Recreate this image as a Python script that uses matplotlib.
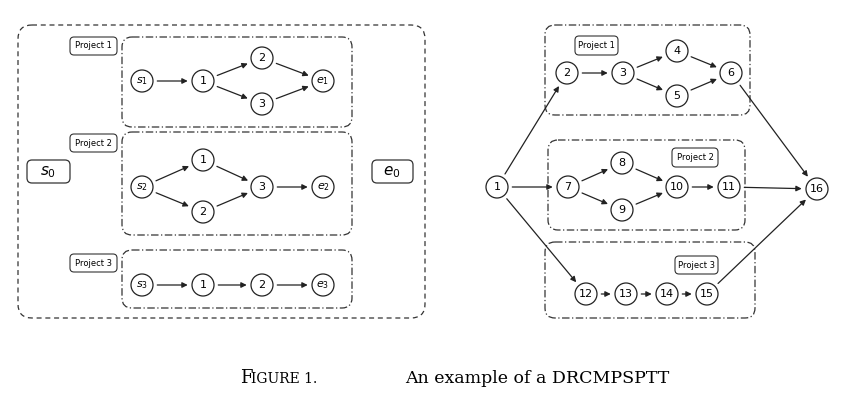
import matplotlib.pyplot as plt
from matplotlib.patches import FancyBboxPatch, Circle

# node name -> (x, y, label)
left_nodes = {
    's1': (142, 81, '$s_1$'), 'a1': (203, 81, '1'), 'a2': (262, 58, '2'),
    'a3': (262, 104, '3'), 'e1': (323, 81, '$e_1$'),
    's2': (142, 187, '$s_2$'), 'b1': (203, 160, '1'), 'b2': (203, 212, '2'),
    'b3': (262, 187, '3'), 'e2': (323, 187, '$e_2$'),
    's3': (142, 285, '$s_3$'), 'c1': (203, 285, '1'), 'c2': (262, 285, '2'),
    'e3': (323, 285, '$e_3$'),
}
left_edges = [('s1', 'a1'), ('a1', 'a2'), ('a1', 'a3'), ('a2', 'e1'), ('a3', 'e1'),
              ('s2', 'b1'), ('s2', 'b2'), ('b1', 'b3'), ('b2', 'b3'), ('b3', 'e2'),
              ('s3', 'c1'), ('c1', 'c2'), ('c2', 'e3')]

right_nodes = {
    1: (497, 187), 2: (567, 73), 3: (623, 73), 4: (677, 51), 5: (677, 96),
    6: (731, 73), 7: (568, 187), 8: (622, 163), 9: (622, 210), 10: (677, 187),
    11: (729, 187), 12: (586, 294), 13: (626, 294), 14: (667, 294),
    15: (707, 294), 16: (817, 189),
}
right_edges = [(1, 2), (1, 7), (1, 12), (2, 3), (3, 4), (3, 5), (4, 6), (5, 6),
               (6, 16), (7, 8), (7, 9), (8, 10), (9, 10), (10, 11), (11, 16),
               (12, 13), (13, 14), (14, 15), (15, 16)]

# (x0, y0, x1, y1)
group_boxes = [(122, 37, 352, 127), (122, 132, 352, 235), (122, 250, 352, 308),
               (545, 25, 750, 115), (548, 140, 745, 230), (545, 242, 755, 318)]
label_boxes = [(70, 37, 117, 55, 'Project 1'), (70, 134, 117, 152, 'Project 2'),
               (70, 254, 117, 272, 'Project 3'), (575, 36, 618, 55, 'Project 1'),
               (672, 148, 718, 167, 'Project 2'), (675, 256, 718, 274, 'Project 3')]

R = 11

fig = plt.figure(figsize=(8.48, 4.11), dpi=100)
ax = fig.add_axes([0, 0, 1, 1])
ax.set_xlim(0, 848)
ax.set_ylim(411, 0)
ax.axis('off')


def rbox(x0, y0, x1, y1, ls, pad=8, lw=0.9):
    ax.add_patch(FancyBboxPatch((x0, y0), x1 - x0, y1 - y0,
                                boxstyle='round,pad=0,rounding_size=%d' % pad,
                                fill=False, ec='#333333', lw=lw, ls=ls))


rbox(18, 25, 425, 318, (0, (4, 3)), pad=14)
for b in group_boxes:
    rbox(*b, ls=(0, (6, 2, 1, 2)), pad=10)
for x0, y0, x1, y1, t in label_boxes:
    rbox(x0, y0, x1, y1, '-', pad=4, lw=0.8)
    ax.text((x0 + x1) / 2, (y0 + y1) / 2, t, ha='center', va='center', fontsize=6)

rbox(27, 160, 70, 183, '-', pad=5)
ax.text(48, 172, '$s_0$', ha='center', va='center', fontsize=11)
rbox(372, 160, 413, 183, '-', pad=5)
ax.text(392, 172, '$e_0$', ha='center', va='center', fontsize=11)


def draw(nodes, edges):
    for a, b in edges:
        xa, ya = nodes[a][:2]
        xb, yb = nodes[b][:2]
        ax.annotate('', xy=(xb, yb), xytext=(xa, ya),
                    arrowprops=dict(arrowstyle='-|>', color='#222222', lw=0.9,
                                    shrinkA=R, shrinkB=R, mutation_scale=8))
    for k, v in nodes.items():
        x, y = v[:2]
        lab = v[2] if len(v) > 2 else str(k)
        ax.add_patch(Circle((x, y), R, fc='white', ec='#222222', lw=0.9, zorder=3))
        ax.text(x, y, lab, ha='center', va='center', fontsize=8, zorder=4)


draw(left_nodes, left_edges)
draw(right_nodes, right_edges)

ax.text(240, 378, 'F', ha='left', va='center', fontsize=13, family='serif')
ax.text(251, 379, 'IGURE 1.', ha='left', va='center', fontsize=10, family='serif')
ax.text(405, 378, 'An example of a DRCMPSPTT', ha='left', va='center',
        fontsize=12.5, family='serif')

fig.savefig('out.png', dpi=100)
